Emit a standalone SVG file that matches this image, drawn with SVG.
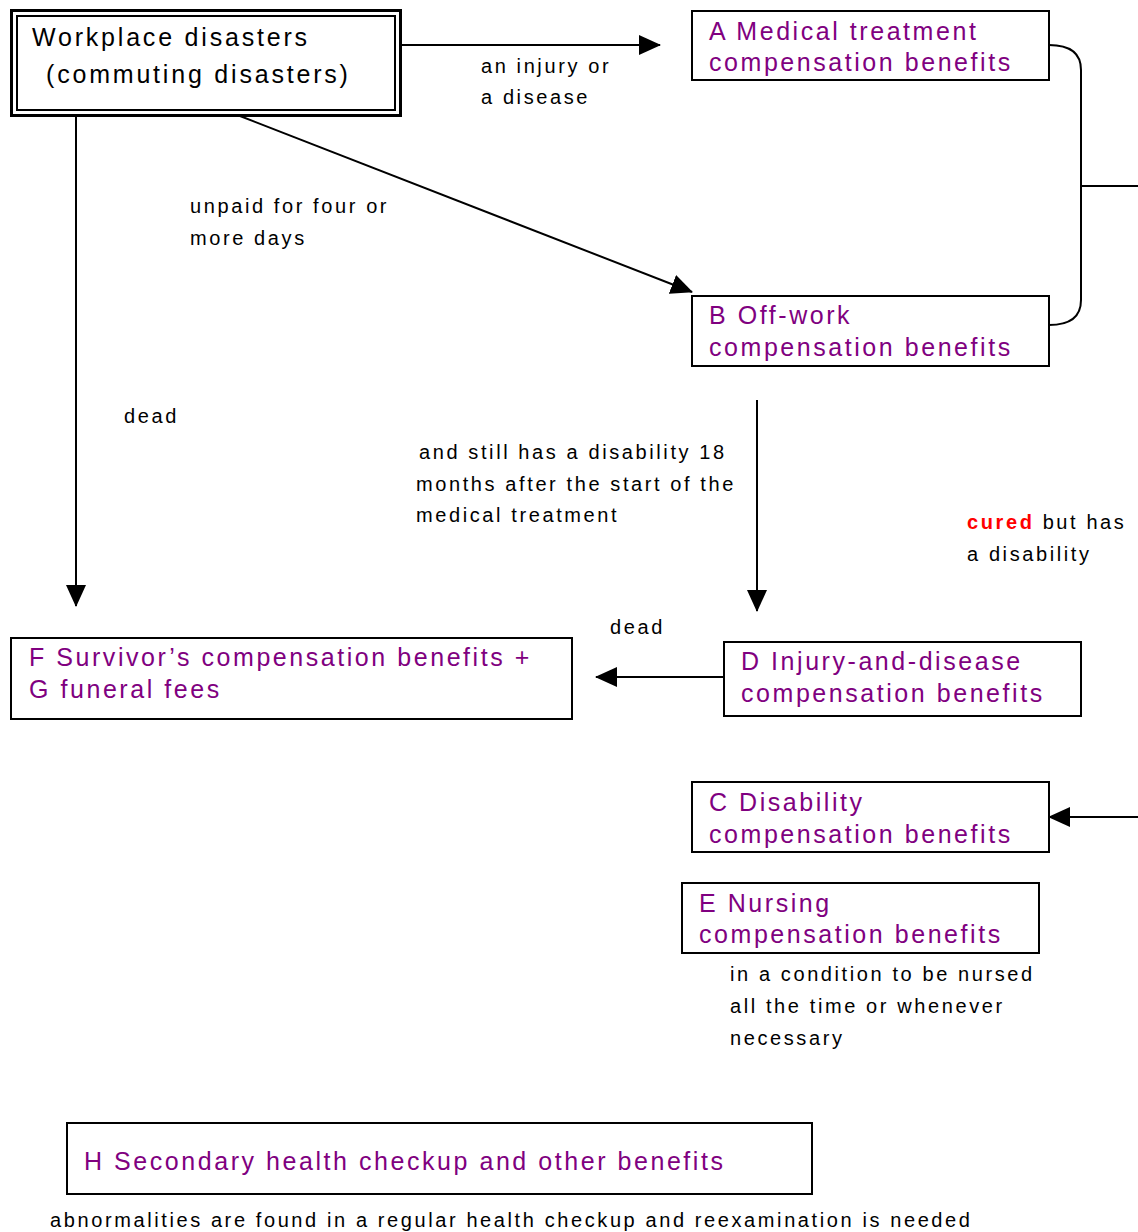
<svg xmlns="http://www.w3.org/2000/svg" width="1138" height="1232" viewBox="0 0 1138 1232">
<style>
.box{fill:#fff;stroke:#000;stroke-width:2}
.nt{font-family:"Liberation Sans",Arial,sans-serif;font-size:25px;letter-spacing:2.55px;fill:#800080}
.wt{font-family:"Liberation Sans",Arial,sans-serif;font-size:25px;letter-spacing:2.8px;fill:#000}
.lb{font-family:"Liberation Sans",Arial,sans-serif;font-size:20px;letter-spacing:2.6px;fill:#000}
.ln{fill:none;stroke:#000;stroke-width:2}
</style>
<defs>
<marker id="ah" markerUnits="userSpaceOnUse" markerWidth="22" markerHeight="20" refX="21" refY="10" orient="auto">
<path d="M0,0 L22,10 L0,20 Z" fill="#000"/>
</marker>
</defs>
<g id="connectors">
<line class="ln" x1="401" y1="45" x2="660" y2="45" marker-end="url(#ah)"/>
<line class="ln" x1="240" y1="116" x2="692" y2="292" marker-end="url(#ah)"/>
<line class="ln" x1="76" y1="116" x2="76" y2="606" marker-end="url(#ah)"/>
<line class="ln" x1="757" y1="400" x2="757" y2="611" marker-end="url(#ah)"/>
<line class="ln" x1="724" y1="677" x2="596" y2="677" marker-end="url(#ah)"/>
<line class="ln" x1="1138" y1="817" x2="1049" y2="817" marker-end="url(#ah)"/>
<path class="ln" d="M1049,45 Q1081,45 1081,70 L1081,300 Q1081,325 1049,325"/>
<line class="ln" x1="1081" y1="186" x2="1138" y2="186"/>
</g>
<g id="labels">
<text class="lb" x="481" y="73">an injury or</text>
<text class="lb" x="481" y="104">a disease</text>
<text class="lb" x="190" y="213">unpaid for four or</text>
<text class="lb" x="190" y="245">more days</text>
<text class="lb" x="124" y="423">dead</text>
<text class="lb" x="419" y="459">and still has a disability 18</text>
<text class="lb" x="416" y="491">months after the start of the</text>
<text class="lb" x="416" y="522">medical treatment</text>
<text class="lb" x="967" y="529"><tspan fill="#ff0000" font-weight="bold">cured</tspan> but has</text>
<text class="lb" x="967" y="561">a disability</text>
<text class="lb" x="610" y="634">dead</text>
<text class="lb" x="730" y="981">in a condition to be nursed</text>
<text class="lb" x="730" y="1013">all the time or whenever</text>
<text class="lb" x="730" y="1045">necessary</text>
<text class="lb" x="50" y="1227" letter-spacing="2">abnormalities are found in a regular health checkup and reexamination is needed</text>
</g>
<g id="workplace">
<rect x="11.5" y="10.5" width="389" height="105" fill="#fff" stroke="#000" stroke-width="3"/>
<rect x="17" y="16" width="378" height="94" fill="none" stroke="#000" stroke-width="2"/>
<text class="wt" x="32" y="46">Workplace disasters</text>
<text class="wt" x="46" y="83">(commuting disasters)</text>
</g>
<g id="nodeA">
<rect class="box" x="692" y="11" width="357" height="69"/>
<text class="nt" x="709" y="40">A Medical treatment</text>
<text class="nt" x="709" y="71">compensation benefits</text>
</g>
<g id="nodeB">
<rect class="box" x="692" y="296" width="357" height="70"/>
<text class="nt" x="709" y="324">B Off-work</text>
<text class="nt" x="709" y="356">compensation benefits</text>
</g>
<g id="nodeF">
<rect class="box" x="11" y="638" width="561" height="81"/>
<text class="nt" x="29" y="666">F Survivor’s compensation benefits +</text>
<text class="nt" x="29" y="698">G funeral fees</text>
</g>
<g id="nodeD">
<rect class="box" x="724" y="642" width="357" height="74"/>
<text class="nt" x="741" y="670">D Injury-and-disease</text>
<text class="nt" x="741" y="702">compensation benefits</text>
</g>
<g id="nodeC">
<rect class="box" x="692" y="782" width="357" height="70"/>
<text class="nt" x="709" y="811">C Disability</text>
<text class="nt" x="709" y="843">compensation benefits</text>
</g>
<g id="nodeE">
<rect class="box" x="682" y="883" width="357" height="70"/>
<text class="nt" x="699" y="912">E Nursing</text>
<text class="nt" x="699" y="943">compensation benefits</text>
</g>
<g id="nodeH">
<rect class="box" x="67" y="1123" width="745" height="71"/>
<text class="nt" x="84" y="1170">H Secondary health checkup and other benefits</text>
</g>
</svg>
